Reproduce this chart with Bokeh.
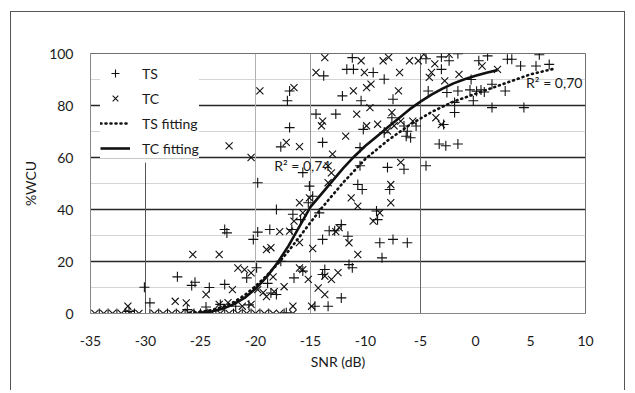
from bokeh.plotting import figure
from bokeh.models import Label, Legend, LegendItem, SingleIntervalTicker, Range1d, PrintfTickFormatter
from bokeh.embed import file_html
from bokeh.resources import INLINE

# ---------------- data ----------------
# TS points (+)
ts_x = [-35, -34.2, -33.4, -32.6, -31.8, -31, -29.6, -28.8, -28, -27.2, -26.4, -25.6, -25, -24.4,
        -23.6, -22.8, -22, -21.2, -20.4, -19.6, -18.8, -17.4,
        -31.5, -30.1, -29.6, -27.1, -26.2, -25.8, -25.5, -24.2, -22.8, -23.2, -24.5, -21.8, -20.8,
        -20.6, -19.9, -18.9, -18.6, -18.1, -17.7, -17.2, -16.5, -15.7, -14.6, -13.9, -13.7, -13.4,
        -12.2, -11.5, -11.2,
        -22.8, -22.6, -20.2, -19.8, -19.8, -18.7, -18.1, -16.7, -16.6, -15.9, -15.2, -15.1, -14.8,
        -14.2, -13.9, -13.3, -12.8, -12.2, -11.6, -10.7, -10.3, -9.0, -8.9, -8.7, -8.5, -7.8, -7.5,
        -6.2, -15.7,
        -17.7, -16.9, -16.9, -17.1, -14.5, -12.7, -13.9, -13.8, -11.7, -11.1, -11.2, -12.1, -10.4,
        -10.5, -10.5, -10.2, -9.3, -8.3, -8.3, -7.5, -7.6, -6.5, -6.2, -6.3, -5.4, -5.9, -8.0, -6.5,
        -4.5, -4.5, -4.3, -3.1, -3.1, -2.4, -2.6, -2.9, -3.3, -2.7, -1.6, -1.6, -1.6, -1.9, -1.9,
        -0.5, -0.4, -0.2, 0.1, 0.5, 0.8, 0.3, 1.1, 1.5, 1.5, 2.7, 2.9, 3.3, 4.1, 4.4, 5.5, 5.8, 6.7]
ts_y = [0, 0, 0, 0, 0, 0, 0, 0, 0, 0, 0, 0, 0, 0,
        0, 0, 0, 0, 0, 0, 0, 0,
        0.8, 10.1, 4.1, 14.1, 1.5, 10.8, 12.0, 10.0, 11.2, 3.5, 2.5, 2.8, 13.7,
        3.3, 17.6, 11.6, 7.9, 7.3, 20.1, 0.3, 13.7, 16.3, 2.8, 15.0, 16.9, 2.8,
        6.0, 18.8, 17.6,
        32.3, 31.0, 28.5, 31.3, 50.3, 32.3, 40.0, 32.3, 38.2, 36.1, 42.6, 49.0, 45.1,
        38.7, 28.5, 31.8, 31.8, 34.2, 29.7, 49.6, 47.7, 39.4, 36.1, 27.2, 21.4, 47.7, 28.5,
        27.2, 54.2,
        64.1, 71.5, 85.6, 81.8, 76.7, 76.7, 65.8, 91.4, 93.9, 93.9, 98.4, 83.7, 81.8,
        63.8, 56.8, 70.8, 92.7, 90.1, 69.5, 82.4, 75.3, 72.1, 70.1, 68.2, 72.1, 67.6, 56.2, 55.5,
        56.8, 98.0, 85.6, 98.7, 93.9, 97.2, 85.0, 72.7, 65.2, 64.5, 65.2, 99.9, 85.6, 81.2, 77.3,
        86.0, 90.0, 81.8, 85.5, 86.0, 85.2, 97.2, 99.1, 88.2, 79.2, 85.6, 97.8, 97.8, 95.2, 79.2,
        95.2, 99.5, 95.8]

# TC points (x)
tc_x = [-34.6, -33.8, -33.0, -32.2, -31.4, -30.6, -29.2, -28.4, -27.6, -26.8, -26.0, -25.3, -24.7,
        -24.0, -23.2, -22.4, -21.6, -20.8, -20.0, -19.2, -18.4, -17.8, -16.6,
        -31.6, -27.3, -26.3, -25.7, -24.5, -23.3, -23.3, -22.5, -22.1, -21.6, -21.0, -21.2, -20.4,
        -20.4, -19.8, -19.3, -19.0, -19.0, -18.6, -18.4, -18.3, -17.4, -16.6, -16.0, -15.7, -15.2,
        -14.9, -14.8, -14.3, -13.7, -13.7, -13.1, -12.5, -10.7,
        -17.8, -16.9, -16.5, -16.0, -16.0, -15.7, -15.1, -13.4, -12.7, -12.4, -11.5, -11.3, -10.7,
        -9.3, -8.7, -7.7, -7.7, -13.4, -13.1,
        -22.4, -20.4, -19.6, -17.2, -16.0, -16.5, -14.5, -13.7, -14.0, -13.9, -13.0, -11.8, -11.1,
        -10.8, -10.4, -10.1, -9.9, -9.9, -9.6, -9.5, -8.9, -8.4, -8.0, -7.9, -7.6, -7.4, -7.0, -6.9,
        -6.8, -6.8, -6.0, -5.7, -5.2, -4.7, -4.2, -4.0, -3.7, -3.6, -3.1, -2.8, -2.4, -1.5, 0.6, 2.0]
tc_y = [0, 0, 0, 0, 0, 0, 0, 0, 0, 0, 0, 0, 0,
        0, 0, 0, 0, 0, 0, 0, 0, 0, 0,
        2.8, 4.7, 4.1, 22.7, 7.3, 22.7, 3.5, 4.2, 9.2, 17.5, 16.9, 2.8, 15.6,
        3.5, 9.2, 8.0, 6.5, 24.6, 25.3, 14.1, 8.4, 10.3, 2.8, 17.5, 16.9, 13.1,
        2.8, 25.0, 9.8, 7.3, 14.4, 13.1, 15.7, 22.7,
        31.5, 31.7, 35.5, 27.3, 42.6, 38.7, 44.5, 50.3, 31.5, 33.0, 27.2, 44.5, 41.3,
        35.5, 38.7, 49.6, 42.6, 56.8, 54.1,
        64.5, 60.0, 85.6, 65.8, 64.2, 86.9, 92.7, 98.4, 72.2, 74.0, 61.3, 68.2, 85.6,
        76.7, 97.2, 92.7, 86.9, 72.2, 79.2, 88.2, 72.8, 97.2, 70.2, 98.5, 77.3, 72.2, 85.6, 92.7,
        74.0, 58.1, 97.2, 74.0, 97.2, 99.7, 90.8, 92.7, 96.0, 75.3, 72.7, 89.5, 99.7, 92.0, 95.2, 93.9]

# fitted curves
ts_fit_x = [-26, -25, -24, -23, -22, -21, -20, -19, -18, -17, -16, -15, -14, -13, -12, -11, -10,
            -9, -8, -7, -6, -5, -4, -3, -2, -1, 0, 1, 2, 3, 4, 5, 6, 7]
ts_fit_y = [0.3, 0.6, 1.3, 2.5, 4.3, 7, 10.5, 14.5, 19, 24, 29.5, 35, 40.5, 45.5, 50.5, 55, 59.5,
            63, 66.5, 69.5, 72.5, 75, 77.5, 79.5, 81.5, 83, 84.5, 86, 87.5, 89, 90.5, 92, 93, 94]
tc_fit_x = [-25, -24, -23, -22, -21, -20, -19, -18, -17, -16, -15, -14, -13, -12, -11, -10, -9,
            -8, -7, -6, -5, -4, -3, -2, -1, 0, 1, 2]
tc_fit_y = [0.3, 0.8, 1.8, 3.5, 6, 9.5, 14, 19.5, 26, 33.5, 41, 46, 51, 56, 60.5, 64.5, 68,
            71.5, 75, 78.5, 81.5, 84.2, 86.5, 88.5, 90.1, 91.4, 92.6, 93.6]

# stray vertical rules visible in the picture
vline_x = [-30, -20, -15, -5]
vline_top = [58, 100, 100, 100]
vline_color = ["#555555", "#b0b0b0", "#9a9a9a", "#666666"]

r2_text = ["R\u00b2 = 0,74", "R\u00b2 = 0,70"]
r2_x = [-18.3, 4.6]
r2_y = [56.9, 88.8]

FONT = "Lato"

p = figure(width=615, height=379, output_backend="svg", toolbar_location=None,
           x_range=Range1d(-35, 10), y_range=Range1d(0, 100),
           min_border_left=79, min_border_right=41, min_border_top=41, min_border_bottom=78,
           styles={"border-left": "1.5px solid #555", "border-top": "1.5px solid #555",
                   "border-right": "1.5px solid #555", "border-bottom": "none",
                   "margin-left": "10px", "margin-top": "11px"})
p.background_fill_color = "white"
p.border_fill_color = "white"
p.outline_line_color = "#707070"
p.outline_line_width = 1

p.xaxis.ticker = SingleIntervalTicker(interval=5, num_minor_ticks=0)
p.yaxis.ticker = SingleIntervalTicker(interval=20, num_minor_ticks=2)
p.xaxis.formatter = PrintfTickFormatter(format="%d")
p.yaxis.formatter = PrintfTickFormatter(format="%d")
p.xgrid.grid_line_color = None
p.ygrid.grid_line_color = "#262626"
p.ygrid.grid_line_width = 1.4
p.ygrid.minor_grid_line_color = "#d4d4d4"
p.ygrid.minor_grid_line_width = 1

for ax in (p.xaxis, p.yaxis):
    ax.major_tick_line_color = None
    ax.minor_tick_line_color = None
    ax.axis_line_color = "#888888"
    ax.major_label_text_font = FONT
    ax.major_label_text_font_size = "14px"
    ax.major_label_text_color = "#1a1a1a"
    ax.axis_label_text_font = FONT
    ax.axis_label_text_font_size = "14px"
    ax.axis_label_text_font_style = "normal"
    ax.axis_label_text_color = "#1a1a1a"

p.xaxis.axis_label = "SNR (dB)"
p.yaxis.axis_label = "%WCU"
p.xaxis.major_label_standoff = 16
p.yaxis.major_label_standoff = 11
p.xaxis.axis_label_standoff = 4
p.yaxis.axis_label_standoff = 7

p.segment(x0=vline_x, y0=[0] * len(vline_x), x1=vline_x, y1=vline_top,
          line_color=vline_color, line_width=1)

r_ts = p.scatter(ts_x, ts_y, marker="cross", size=10, line_color="#111111", line_width=1.1)
r_tc = p.scatter(tc_x, tc_y, marker="x", size=10, line_color="#111111", line_width=1.1)
r_tsf = p.line(ts_fit_x, ts_fit_y, line_color="#111111", line_width=2.6, line_dash="1 4",
               line_cap="round")
r_tcf = p.line(tc_fit_x, tc_fit_y, line_color="#111111", line_width=2.6)

for t, x, y in zip(r2_text, r2_x, r2_y):
    p.add_layout(Label(x=x, y=y, text=t, text_font=FONT, text_font_size="14px",
                       text_baseline="middle", text_color="#1a1a1a"))

legend = Legend(items=[LegendItem(label="TS", renderers=[r_ts]),
                       LegendItem(label="TC", renderers=[r_tc]),
                       LegendItem(label="TS fitting", renderers=[r_tsf]),
                       LegendItem(label="TC fitting", renderers=[r_tcf])],
                location="top_left", margin=10, padding=9, spacing=5,
                glyph_width=30, glyph_height=20, label_height=20, label_standoff=12,
                label_text_font=FONT, label_text_font_size="14px", label_text_color="#1a1a1a",
                background_fill_color="white", background_fill_alpha=1.0,
                border_line_color=None)
p.add_layout(legend)

open("out.html", "w").write(file_html(p, INLINE))
